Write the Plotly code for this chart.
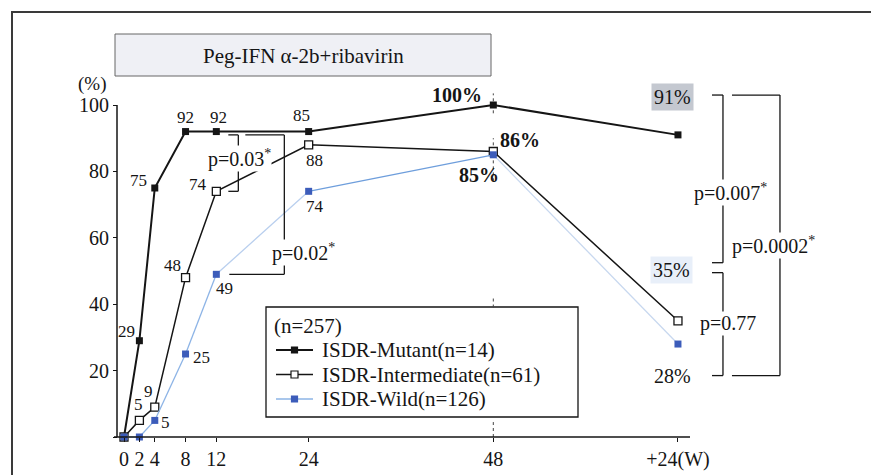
import plotly.graph_objects as go

# ---- data -------------------------------------------------------------
weeks = [0, 2, 4, 8, 12, 24, 48, 72]
week_labels = ["0", "2", "4", "8", "12", "24", "48", "+24(W)"]

mutant = [0, 29, 75, 92, 92, 92, 100, 91]
intermediate = [0, 5, 9, 48, 74, 88, 86, 35]
wild = [0, 0, 5, 25, 49, 74, 85, 28]

mutant_labels = ["", "29", "75", "92", "92", "85", "100%", "91%"]
intermediate_labels = ["", "5", "9", "48", "74", "88", "86%", "35%"]
wild_labels = ["", "", "5", "25", "49", "74", "85%", "28%"]

y_ticks = [20, 40, 60, 80, 100]

series_names = ["ISDR-Mutant(n=14)", "ISDR-Intermediate(n=61)", "ISDR-Wild(n=126)"]
legend_title = "(n=257)"
title_text = "Peg-IFN α-2b+ribavirin"

# ---- page geometry ----------------------------------------------------
W, H = 871, 475
X_ORIGIN_PX, X_PX_PER_WEEK = 124, 7.694   # where week 0 sits, px per week
Y_ORIGIN_PX, Y_PX_PER_PCT = 437, 3.32     # where 0 % sits, px per percent
AXIS_LEFT_PX, AXIS_RIGHT_PX = 117, 690

FONT = "Liberation Serif, Times New Roman, serif"
INK = "#151515"
BLUE_MARK = "#3c5cba"
# colour of each wild-type segment (between consecutive weeks)
wild_segment_colors = ["#8db4e6", "#8db4e6", "#8db4e6", "#8db4e6",
                       "#b9cfee", "#6e9edc", "#c8d8ef"]


def px_to_x(px):
    return (px - X_ORIGIN_PX) / X_PX_PER_WEEK


def py_to_y(py):
    return (Y_ORIGIN_PX - py) / Y_PX_PER_PCT


def pxr(x):
    return x / W


def pyr(y):
    return 1 - y / H


x_range = [px_to_x(0), px_to_x(W)]
y_range = [py_to_y(H), py_to_y(0)]

fig = go.Figure()

fig.add_trace(go.Scatter(
    x=weeks, y=mutant, name=series_names[0], mode="lines+markers",
    line=dict(color=INK, width=2),
    marker=dict(symbol="square", size=7, color=INK),
    cliponaxis=False,
))
fig.add_trace(go.Scatter(
    x=weeks, y=intermediate, name=series_names[1], mode="lines+markers",
    line=dict(color=INK, width=1.5),
    marker=dict(symbol="square", size=8, color="white",
                line=dict(color=INK, width=1.3)),
    cliponaxis=False,
))
for i, col in enumerate(wild_segment_colors):
    fig.add_trace(go.Scatter(
        x=weeks[i:i + 2], y=wild[i:i + 2], mode="lines",
        line=dict(color=col, width=1.3), hoverinfo="skip",
    ))
fig.add_trace(go.Scatter(
    x=weeks, y=wild, name=series_names[2], mode="markers",
    marker=dict(symbol="square", size=7, color=BLUE_MARK),
    cliponaxis=False,
))

# ---- value labels (pixel offsets from each marker) --------------------
mutant_off = [None, (-13, 9), (-16, 8), (0, 14), (2, 14), (-7, 16), (-36, 10), (-5, 38)]
intermediate_off = [None, (-1, 16), (-6, 16), (-13, 12), (-18, 7), (6, -16), (27, 11), (-6, 51)]
wild_off = [None, None, (11, -2), (16, -3), (8, -14), (6, -15), (-14, -20), (-5, -32)]

bold_labels = {"100%", "86%", "85%"}
annotations = []
for values, labels, offs in [(mutant, mutant_labels, mutant_off),
                             (intermediate, intermediate_labels, intermediate_off),
                             (wild, wild_labels, wild_off)]:
    for wk, v, lab, off in zip(weeks, values, labels, offs):
        if not lab:
            continue
        size = 17
        text = lab
        bg = None
        if lab.endswith("%"):
            size = 20
            if lab in bold_labels:
                text = f"<b>{lab}</b>"
        if lab == "91%":
            bg = "#c4c8d0"
        if lab == "35%":
            bg = "rgba(190,210,238,0.35)"
        annotations.append(dict(
            x=wk, y=v, xref="x", yref="y", text=text, showarrow=False,
            xanchor="center", yanchor="middle",
            xshift=off[0], yshift=off[1],
            font=dict(family=FONT, size=size, color=INK),
            bgcolor=bg, borderpad=2 if bg else 0,
        ))

# ---- significance brackets -------------------------------------------
shapes = []


def hseg(anchor, px0, px1, y):
    shapes.append(dict(type="line", xref="x", yref="y", xsizemode="pixel",
                       xanchor=anchor, x0=px0, x1=px1, y0=y, y1=y,
                       line=dict(color=INK, width=1.3)))


def vseg(anchor, px, ya, yb):
    shapes.append(dict(type="line", xref="x", yref="y", xsizemode="pixel",
                       xanchor=anchor, x0=px, x1=px, y0=ya, y1=yb,
                       line=dict(color=INK, width=1.3)))


def bracket(anchor, px_in, px_out, y_top, y_bot, px_in_bot=None):
    hseg(anchor, px_in, px_out, y_top)
    vseg(anchor, px_out, y_top, y_bot)
    hseg(anchor, px_in if px_in_bot is None else px_in_bot, px_out, y_bot)


wk12 = weeks.index(12)
top12 = mutant[wk12] - 1
bracket(12, 12, 22, top12, intermediate[wk12])
bracket(12, 29, 68, top12, wild[wk12], px_in_bot=13)

FOLLOW = 72
lvl_top, lvl_35_up, lvl_35_dn, lvl_bot = 103, 52.5, 49.5, 18.5
bracket(FOLLOW, 34, 45, lvl_top, lvl_35_up)
bracket(FOLLOW, 54, 102, lvl_top, lvl_bot)
bracket(FOLLOW, 34, 45, lvl_35_dn, lvl_bot)

p_values = [
    (12, 23, 84, "p=0.03<sup>*</sup>"),
    (12, 87, 55.5, "p=0.02<sup>*</sup>"),
    (FOLLOW, 53, 73.5, "p=0.007<sup>*</sup>"),
    (FOLLOW, 96, 57.8, "p=0.0002<sup>*</sup>"),
    (FOLLOW, 50, 34.3, "p=0.77"),
]
for wk, dx, y, txt in p_values:
    annotations.append(dict(
        x=wk, y=y, xref="x", yref="y", text=txt, showarrow=False,
        xanchor="center", yanchor="middle",
        xshift=dx, font=dict(family=FONT, size=20, color=INK),
        bgcolor="white", borderpad=0,
    ))

# ---- axis lines, origin tick, reference marks at week 48 --------------
x_left = px_to_x(AXIS_LEFT_PX)
shapes.append(dict(type="line", xref="x", yref="y", x0=px_to_x(114), x1=px_to_x(AXIS_RIGHT_PX),
                   y0=0, y1=0, line=dict(color=INK, width=1.5)))
shapes.append(dict(type="line", xref="x", yref="y", x0=x_left, x1=x_left,
                   y0=0, y1=100, line=dict(color=INK, width=1.5)))
for ya, yb in [(97.5, 103.5), (77, 90), (39, 42.5), (0, 4.5)]:
    shapes.append(dict(type="line", xref="x", yref="y", x0=48, x1=48, y0=ya, y1=yb,
                       line=dict(color="#444", width=1, dash="dot"), layer="below"))

# ---- frame, title box -------------------------------------------------
shapes.append(dict(type="rect", xref="paper", yref="paper",
                   x0=pxr(12), x1=1.05, y0=-0.05, y1=pyr(12),
                   line=dict(color="#3a3a3a", width=2), fillcolor="rgba(0,0,0,0)"))
shapes.append(dict(type="rect", xref="paper", yref="paper",
                   x0=pxr(115), x1=pxr(491), y0=pyr(76), y1=pyr(34),
                   line=dict(color="#666", width=1), fillcolor="#eff0f5", layer="below"))

annotations.append(dict(x=pxr(303), y=pyr(56), xref="paper", yref="paper",
                        xanchor="center", yanchor="middle",
                        text=title_text, showarrow=False,
                        font=dict(family=FONT, size=21, color=INK)))
annotations.append(dict(x=pxr(108), y=pyr(84), xref="paper", yref="paper",
                        xanchor="right", yanchor="middle",
                        text="(%)", showarrow=False,
                        font=dict(family=FONT, size=19, color=INK)))

# ---- legend box with keys --------------------------------------------
LEG_L, LEG_R, LEG_T, LEG_B = 266, 578, 307, 417
shapes.append(dict(type="rect", xref="paper", yref="paper",
                   x0=pxr(LEG_L), x1=pxr(LEG_R), y0=pyr(LEG_B), y1=pyr(LEG_T),
                   line=dict(color=INK, width=1.3), fillcolor="white", layer="below"))
annotations.append(dict(x=pxr(272), y=pyr(326), xref="paper", yref="paper",
                        xanchor="left", yanchor="middle", text=legend_title,
                        showarrow=False, font=dict(family=FONT, size=21, color=INK)))
key_rows = [350, 374.5, 399]
key_styles = [
    dict(line=INK, lw=2, fill=INK, edge=INK, half=3),
    dict(line=INK, lw=1.5, fill="white", edge=INK, half=3.5),
    dict(line="#8db4e6", lw=1.5, fill=BLUE_MARK, edge=BLUE_MARK, half=3),
]
for name, row, st in zip(series_names, key_rows, key_styles):
    shapes.append(dict(type="line", xref="paper", yref="paper",
                       x0=pxr(276), x1=pxr(313), y0=pyr(row), y1=pyr(row),
                       line=dict(color=st["line"], width=st["lw"])))
    shapes.append(dict(type="rect", xref="paper", yref="paper",
                       x0=pxr(294.5 - st["half"]), x1=pxr(294.5 + st["half"]),
                       y0=pyr(row + st["half"]), y1=pyr(row - st["half"]),
                       fillcolor=st["fill"], line=dict(color=st["edge"], width=1.2)))
    annotations.append(dict(x=pxr(320), y=pyr(row), xref="paper", yref="paper",
                            xanchor="left", yanchor="middle", text=name,
                            showarrow=False, font=dict(family=FONT, size=21, color=INK)))

fig.update_layout(
    width=W, height=H, autosize=False,
    margin=dict(l=0, r=0, t=0, b=0),
    paper_bgcolor="white", plot_bgcolor="white",
    shapes=shapes, annotations=annotations,
    showlegend=False,
    xaxis=dict(
        range=x_range, anchor="free", position=(H - Y_ORIGIN_PX) / H,
        tickvals=weeks, ticktext=week_labels, ticks="outside", ticklen=4,
        tickcolor=INK, showgrid=False, zeroline=False, showline=False,
        tickfont=dict(family=FONT, size=20, color=INK),
    ),
    yaxis=dict(
        range=y_range, anchor="free", position=AXIS_LEFT_PX / W,
        tickvals=[0] + y_ticks, ticktext=[" "] + [str(t) for t in y_ticks],
        ticks="outside", ticklen=4, tickcolor=INK,
        showgrid=False, zeroline=False, showline=False,
        tickfont=dict(family=FONT, size=20, color=INK),
    ),
)

fig.write_html("out.html")
